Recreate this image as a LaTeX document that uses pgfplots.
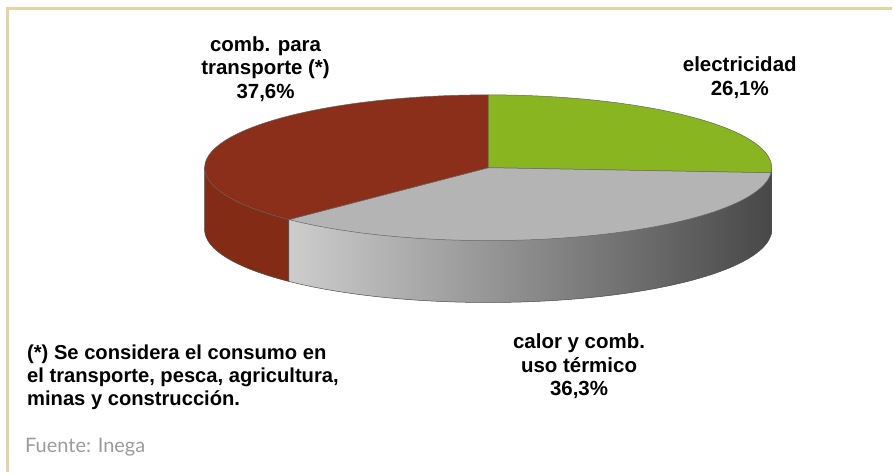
\documentclass[border=0pt]{standalone}
\usepackage{pgfplots}
\pgfplotsset{compat=1.18}
\usepackage{pgfplotstable}
\usepackage{fontspec}
\setmainfont{Liberation Sans}
\newfontfamily\srcfont{Lato}
\definecolor{pieRed}{RGB}{140,47,26}
\definecolor{pieRedSide}{RGB}{132,43,22}
\definecolor{pieGreen}{RGB}{136,181,32}
\definecolor{pieGray}{RGB}{180,180,180}
\definecolor{sideLight}{RGB}{205,205,205}
\definecolor{sideDark}{RGB}{72,72,72}
\definecolor{frameGold}{RGB}{226,212,164}
\definecolor{srcGray}{RGB}{155,155,155}

\pgfplotstableread{
label value
electricidad 26.1
calor 36.3
transporte 37.6
}\piedata

\begin{document}
\begin{tikzpicture}
\pgfplotstablegetelem{0}{value}\of\piedata \let\va\pgfplotsretval
\pgfplotstablegetelem{1}{value}\of\piedata \let\vb\pgfplotsretval
\pgfplotstablegetelem{2}{value}\of\piedata \let\vc\pgfplotsretval
\pgfmathsetmacro\aA{90}
\pgfmathsetmacro\aB{90-3.6*\va}
\pgfmathsetmacro\aC{\aB-3.6*\vb}
\pgfmathsetmacro\aD{\aC-3.6*\vc}
\pgfmathsetmacro\xB{489+284*cos(\aB)}
\pgfmathsetmacro\yB{168-73*sin(\aB)}
\pgfmathsetmacro\xC{489+284*cos(\aC)}
\pgfmathsetmacro\yC{168-73*sin(\aC)}
\begin{axis}[
  scale only axis, width=893pt, height=473pt,
  xmin=0, xmax=893, ymin=0, ymax=473, y dir=reverse,
  hide axis, clip=false, samples=90,
]
% page extent
\path (axis cs:0,0) rectangle (axis cs:893,473);
% frame
\draw[frameGold, line width=3pt] (axis cs:8,473) -- (axis cs:8,9) -- (axis cs:893,9);
% side: red part
\addplot[fill=pieRedSide, draw=black!70, line width=0.5pt, domain=-180:\aC, variable=\t]
  ({489+284*cos(\t)},{230-73*sin(\t)}) -- (axis cs:\xC,\yC) -- (axis cs:205,168) -- cycle;
% side: gray part
\addplot[left color=sideLight, right color=sideDark, shading=axis, draw=black!70, line width=0.5pt, domain=\aC:\aB, variable=\t]
  ({489+284*cos(\t)},{230-73*sin(\t)}) -- (axis cs:\xB,\yB) -- (axis cs:\xC,\yC) -- cycle;
% side: green part
\addplot[fill=pieGreen!80!black, draw=black!70, line width=0.5pt, domain=\aB:0, variable=\t]
  ({489+284*cos(\t)},{230-73*sin(\t)}) -- (axis cs:773,168) -- (axis cs:\xB,\yB) -- cycle;
% top sectors
\addplot[fill=pieGreen, draw=black!60, line width=0.5pt, domain=\aB:\aA, variable=\t]
  ({489+284*cos(\t)},{168-73*sin(\t)}) -- (axis cs:489,168) -- cycle;
\addplot[fill=pieGray, draw=black!60, line width=0.5pt, domain=\aC:\aB, variable=\t]
  ({489+284*cos(\t)},{168-73*sin(\t)}) -- (axis cs:489,168) -- cycle;
\addplot[fill=pieRed, draw=black!60, line width=0.5pt, domain=\aD:\aC, variable=\t]
  ({489+284*cos(\t)},{168-73*sin(\t)}) -- (axis cs:489,168) -- cycle;
% labels
\node[inner sep=0, align=center, font=\fontsize{20.5}{23.5}\selectfont\bfseries] at (axis cs:266,69) {comb. para\\transporte (*)\\37,6\%};
\node[inner sep=0, align=center, font=\fontsize{20.5}{23.5}\selectfont\bfseries] at (axis cs:741,78) {electricidad\\26,1\%};
\node[inner sep=0, align=center, font=\fontsize{20.5}{23.5}\selectfont\bfseries] at (axis cs:580,367) {calor y comb.\\uso térmico\\36,3\%};
\node[inner sep=0, anchor=west, align=left, font=\fontsize{20.2}{23}\selectfont\bfseries] at (axis cs:27,378) {(*) Se considera el consumo en\\el transporte, pesca, agricultura,\\minas y construcción.};
\node[inner sep=0, anchor=west, text=srcGray, font=\fontsize{20}{22}\srcfont\selectfont] at (axis cs:25,448) {Fuente: Inega};
\end{axis}
\end{tikzpicture}
\end{document}
